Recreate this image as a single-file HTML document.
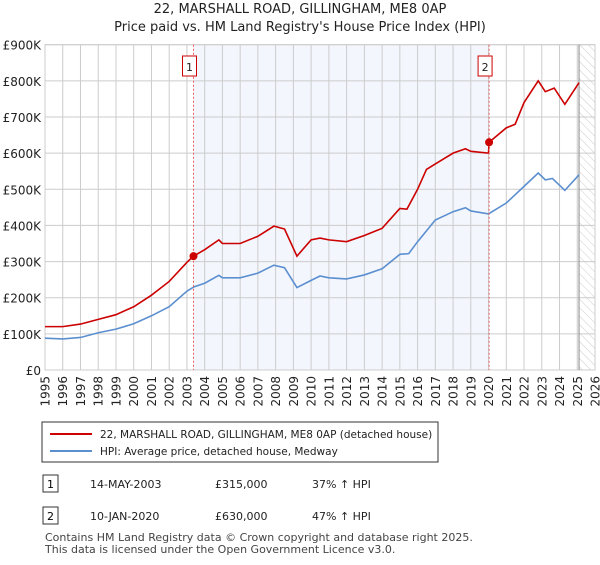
<!DOCTYPE html>
<html><head><meta charset="utf-8"><style>
body{margin:0;background:#fff;font-family:"Liberation Sans","DejaVu Sans",sans-serif;}
svg text{font-family:"DejaVu Sans","Liberation Sans",sans-serif;}
</style></head><body>
<svg id="c" width="600" height="560" xmlns="http://www.w3.org/2000/svg">
<text x="300" y="13" text-anchor="middle" font-size="13" fill="#222">22, MARSHALL ROAD, GILLINGHAM, ME8 0AP</text>
<text x="300" y="31" text-anchor="middle" font-size="13" fill="#222">Price paid vs. HM Land Registry's House Price Index (HPI)</text>
<defs><pattern id="h" width="6" height="6" patternUnits="userSpaceOnUse" patternTransform="rotate(-45)"><line x1="0" y1="0" x2="0" y2="6" stroke="#ccc" stroke-width="1"/></pattern></defs>
<g id="grid"></g><g id="marks"></g><g id="axes"></g>
<rect x="42" y="422" width="396" height="40" fill="#fff" stroke="#333"/>
<line x1="50" y1="434" x2="92" y2="434" stroke="#cc0000" stroke-width="2"/>
<text x="100" y="438" font-size="10.5" fill="#222">22, MARSHALL ROAD, GILLINGHAM, ME8 0AP (detached house)</text>
<line x1="50" y1="451" x2="92" y2="451" stroke="#5b8fd0" stroke-width="2"/>
<text x="100" y="455" font-size="10.5" fill="#222">HPI: Average price, detached house, Medway</text>
<g>
<rect x="43" y="475" width="15" height="17" fill="#fff" stroke="#333"/><text x="50.5" y="488" text-anchor="middle" font-size="11">1</text>
<text x="90" y="488" font-size="11" fill="#222">14-MAY-2003</text><text x="215" y="488" font-size="11" fill="#222">£315,000</text><text x="312" y="488" font-size="11" fill="#222">37% ↑ HPI</text></g>
<g>
<rect x="43" y="507" width="15" height="17" fill="#fff" stroke="#333"/><text x="50.5" y="520" text-anchor="middle" font-size="11">2</text>
<text x="90" y="520" font-size="11" fill="#222">10-JAN-2020</text><text x="215" y="520" font-size="11" fill="#222">£630,000</text><text x="312" y="520" font-size="11" fill="#222">47% ↑ HPI</text></g>
<text x="45" y="541" font-size="11" fill="#444">Contains HM Land Registry data © Crown copyright and database right 2025.</text>
<text x="45" y="553" font-size="11" fill="#444">This data is licensed under the Open Government Licence v3.0.</text>
</svg>
<script>
const yTicks=[0,100,200,300,400,500,600,700,800,900];
const yLabels=["£0","£100K","£200K","£300K","£400K","£500K","£600K","£700K","£800K","£900K"];
const years=[1995,1996,1997,1998,1999,2000,2001,2002,2003,2004,2005,2006,2007,2008,2009,2010,2011,2012,2013,2014,2015,2016,2017,2018,2019,2020,2021,2022,2023,2024,2025,2026];
const hpiT=[1995,1996,1997,1998,1999,2000,2001,2002,2003,2003.4,2004,2004.8,2005,2006,2007,2007.9,2008.5,2009.2,2010,2010.5,2011,2012,2013,2014,2015,2015.5,2016,2017,2018,2018.7,2019,2020,2021,2022,2022.8,2023.2,2023.6,2024.3,2025.1];
const hpiV=[88,86,90,103,113,128,150,175,218,230,240,262,255,255,268,290,283,228,248,260,255,252,263,280,320,322,355,415,438,449,440,432,462,508,545,526,530,497,540];
const priceT=[1995,1996,1997,1998,1999,2000,2001,2002,2003,2003.37,2004,2004.8,2005,2006,2007,2007.9,2008.5,2009.2,2010,2010.5,2011,2012,2013,2014,2015,2015.4,2016,2016.5,2017,2018,2018.7,2019,2020,2020.03,2021,2021.5,2022,2022.8,2023.2,2023.7,2024.3,2025.1];
const priceV=[120,120,127,140,153,175,207,245,298,315,333,360,350,350,370,398,390,315,360,365,360,355,372,392,447,445,500,555,570,600,612,605,600,630,670,680,740,800,770,780,735,795];
const saleT=[2003.37,2020.03];
const saleV=[315,630];
const saleLabels=["1","2"];
const X0=45,X1=595,Y0=370,Y1=44.7;
const x=t=>X0+(t-1995)/(2026-1995)*(X1-X0);
const y=v=>Y0-v/900*(Y0-Y1);
const NS="http://www.w3.org/2000/svg";
function mk(p,tag,a){const e=document.createElementNS(NS,tag);for(const k in a)e.setAttribute(k,a[k]);p.appendChild(e);return e;}
const G=document.getElementById('grid'),M=document.getElementById('marks'),A=document.getElementById('axes');
let r=mk(G,'rect',{x:x(saleT[0]),y:Y1,width:x(saleT[1])-x(saleT[0]),height:Y0-Y1,fill:'#eef2fc',opacity:'0.7'});


r=mk(G,'rect',{x:x(2025.1),y:Y1,width:X1-x(2025.1),height:Y0-Y1,fill:'url(#h)'});


yTicks.forEach((v,i)=>{mk(G,'line',{x1:X0,x2:X1,y1:y(v),y2:y(v),stroke:'#ccc'});
const t=mk(A,'text',{x:X0-4,y:y(v)+5,'text-anchor':'end','font-size':'12',fill:'#222'});t.textContent=yLabels[i];

});
years.forEach(yr=>{mk(G,'line',{x1:x(yr),x2:x(yr),y1:Y1,y2:Y0,stroke:'#ccc'});
const g=mk(A,'g',{transform:'translate('+(x(yr)+4.5)+','+(Y0+6)+') rotate(-90)'});
const t=mk(g,'text',{x:0,y:0,'text-anchor':'end','font-size':'12',fill:'#222'});t.textContent=yr;

});
mk(G,'rect',{x:X0,y:Y1,width:X1-X0,height:Y0-Y1,fill:'none',stroke:'#ccc'});
mk(G,'line',{x1:x(2025.1),x2:x(2025.1),y1:Y1,y2:Y0,stroke:'#888'});
const line=(T,V,c,n)=>{const p=mk(M,'polyline',{points:T.map((t,i)=>x(t)+','+y(V[i])).join(' '),fill:'none',stroke:c,'stroke-width':'1.6'});

};
line(hpiT,hpiV,'#5b8fd0','hpi-line');
line(priceT,priceV,'#cc0000','price-line');
saleT.forEach((t,i)=>{mk(M,'line',{x1:x(t),x2:x(t),y1:Y1,y2:Y0,stroke:'#f06060','stroke-dasharray':'2,2'});
const c=mk(M,'circle',{cx:x(t),cy:y(saleV[i]),r:4,fill:'#cc0000'});


const b=mk(M,'rect',{x:x(t)-11,y:56,width:14,height:20,fill:'#fff',stroke:'#cc0000'});


const tx=mk(M,'text',{x:x(t)-4,y:71,'text-anchor':'middle','font-size':'11',fill:'#222'});tx.textContent=saleLabels[i];});
</script>
</body></html>
